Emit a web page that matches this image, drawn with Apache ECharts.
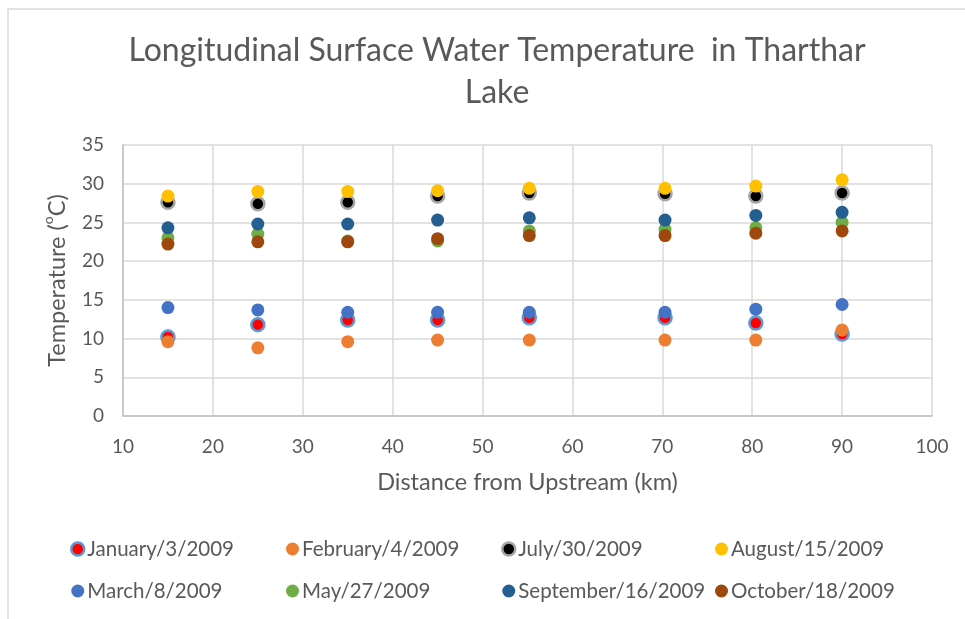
<!DOCTYPE html>
<html>
<head>
<meta charset="utf-8">
<script src="https://cdn.jsdelivr.net/npm/echarts@6/dist/echarts.min.js"></script>
<style>
  html, body { margin: 0; padding: 0; background: #ffffff; }
  #chart { width: 965px; height: 619px; }
</style>
</head>
<body>
<div id="chart"></div>
<script>
// Sampling stations along the lake (km from upstream)
const distances = [15, 25, 35, 45, 55.2, 70.3, 80.4, 90];

// Surface water temperature (°C) per survey date
const january3  = [10.2, 11.8, 12.4, 12.4, 12.7, 12.7, 12.0, 10.6];
const february4 = [9.6, 8.8, 9.6, 9.8, 9.8, 9.8, 9.8, 11.1];
const july30    = [27.6, 27.4, 27.6, 28.4, 28.8, 28.7, 28.4, 28.8];
const august15  = [28.4, 29.0, 29.0, 29.1, 29.4, 29.4, 29.7, 30.5];
const march8    = [14.0, 13.7, 13.4, 13.4, 13.4, 13.4, 13.8, 14.4];
const may27     = [23.0, 23.5, 22.6, 22.6, 23.9, 24.1, 24.3, 25.0];
const september16 = [24.3, 24.8, 24.8, 25.3, 25.6, 25.3, 25.9, 26.3];
const october18 = [22.2, 22.5, 22.5, 22.9, 23.3, 23.3, 23.6, 23.9];

const seriesNames = [
  'January/3/2009', 'February/4/2009', 'July/30/2009', 'August/15/2009',
  'March/8/2009', 'May/27/2009', 'September/16/2009', 'October/18/2009'
];
const seriesValues = [january3, february4, july30, august15, march8, may27, september16, october18];

const xTicks = { min: 10, max: 100, step: 10 };
const yTicks = { min: 0, max: 35, step: 5 };

const styles = [
  { color: '#FF0000', borderColor: '#5B9BD5', borderWidth: 2.5 },
  { color: '#ED7D31' },
  { color: '#000000', borderColor: '#A5A5A5', borderWidth: 2.5 },
  { color: '#FFC000' },
  { color: '#4472C4' },
  { color: '#70AD47' },
  { color: '#255E91' },
  { color: '#9E480E' }
];

const FONT = 'Lato';
const TEXT = '#595959';
const GRID = '#D9D9D9';

const series = seriesNames.map((name, i) => ({
  name: name,
  type: 'scatter',
  symbol: 'circle',
  symbolSize: 13,
  z: 2 + i,
  itemStyle: Object.assign({ opacity: 1 }, styles[i]),
  data: distances.map((d, j) => [d, seriesValues[i][j]])
}));

// Legend laid out as four columns of two entries
const columns = [[0, 4], [1, 5], [2, 6], [3, 7]];
const columnLeft = [65, 281, 496, 710];
const legends = columns.map((idx, c) => ({
  orient: 'vertical',
  left: columnLeft[c],
  top: 533,
  itemGap: 20,
  itemWidth: 13,
  itemHeight: 13,
  icon: 'circle',
  selectedMode: false,
  textStyle: { fontFamily: FONT, fontSize: 20.5, lineHeight: 22, color: TEXT, padding: [0, 0, 0, -2] },
  data: idx.map(k => ({ name: seriesNames[k], itemStyle: styles[k] }))
}));

const chart = echarts.init(document.getElementById('chart'), null, { renderer: 'canvas' });
chart.setOption({
  backgroundColor: '#ffffff',
  animation: false,
  title: {
    text: 'Longitudinal Surface Water Temperature  in Tharthar\nLake',
    left: 492,
    top: 25,
    textAlign: 'center',
    textStyle: { fontFamily: FONT, fontSize: 32, fontWeight: 'normal', color: TEXT, lineHeight: 42 }
  },
  graphic: [{
    type: 'rect',
    silent: true,
    shape: { x: 8, y: 9, width: 1200, height: 900 },
    style: { fill: 'none', stroke: GRID, lineWidth: 1.5 }
  }],
  legend: legends,
  grid: { left: 123, right: 33, top: 145, bottom: 203 },
  xAxis: {
    type: 'value',
    min: xTicks.min, max: xTicks.max, interval: xTicks.step,
    name: 'Distance from Upstream (km)',
    nameLocation: 'middle',
    nameGap: 54,
    nameTextStyle: { fontFamily: FONT, fontSize: 23.5, color: TEXT },
    axisLine: { show: true, lineStyle: { color: '#BFBFBF', width: 1.5 } },
    axisTick: { show: false },
    axisLabel: { fontFamily: FONT, fontSize: 19, color: TEXT, margin: 21 },
    splitLine: { show: true, lineStyle: { color: GRID, width: 1.5 } }
  },
  yAxis: {
    type: 'value',
    min: yTicks.min, max: yTicks.max, interval: yTicks.step,
    name: '{a|Temperature (}{s|o}{a|C)}',
    nameLocation: 'middle',
    nameGap: 54,
    nameTextStyle: {
      rich: {
        a: { fontFamily: FONT, fontSize: 23.5, color: TEXT, lineHeight: 28, verticalAlign: 'bottom' },
        s: { fontFamily: FONT, fontSize: 14, color: TEXT, lineHeight: 28, verticalAlign: 'top' }
      }
    },
    axisLine: { show: true, lineStyle: { color: '#BFBFBF', width: 1.5 } },
    axisTick: { show: false },
    axisLabel: { fontFamily: FONT, fontSize: 19, color: TEXT, margin: 19 },
    splitLine: { show: true, lineStyle: { color: GRID, width: 1.5 } }
  },
  series: series
});
</script>
</body>
</html>
